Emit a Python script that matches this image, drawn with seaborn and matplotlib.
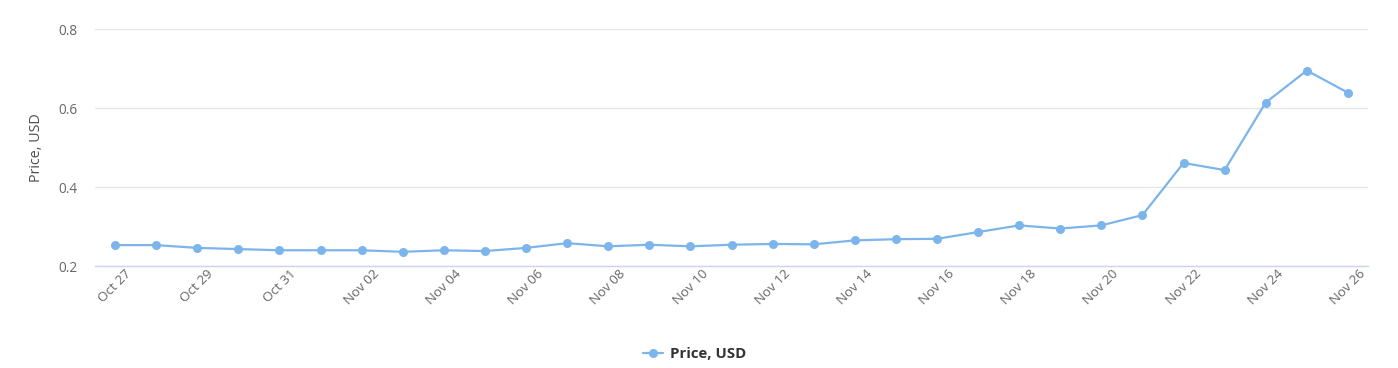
import pandas as pd
import numpy as np
import matplotlib
matplotlib.use('Agg')
import matplotlib.pyplot as plt
import matplotlib.dates as mdates
import seaborn as sns

# Price data (Oct 27 - Nov 26)
dates = pd.date_range("2023-10-27", "2023-11-26", freq="D")
prices = [0.253, 0.253, 0.246, 0.243, 0.240, 0.240, 0.240, 0.236, 0.240, 0.238,
          0.246, 0.258, 0.250, 0.254, 0.250, 0.254, 0.256, 0.255, 0.265, 0.268,
          0.269, 0.286, 0.303, 0.295, 0.303, 0.329, 0.461, 0.443, 0.614, 0.695,
          0.639]
series_name = "Price, USD"
y_ticks = [0.2, 0.4, 0.6, 0.8]

df = pd.DataFrame({"date": dates, "price": prices})

sns.set_style("white")
plt.rcParams['font.family'] = ['Open Sans', 'DejaVu Sans']

LINE = "#7cb5ec"
GRID = "#e6e6e6"
TXT = "#666666"

fig = plt.figure(figsize=(13.98, 3.68), dpi=100)
ax = fig.add_axes([0.068, 0.277, 0.9105, 0.644])

sns.lineplot(data=df, x="date", y="price", ax=ax, color=LINE, linewidth=1.6,
             marker="o", markersize=6.5, markeredgewidth=0, label=series_name,
             legend=False)

pad = pd.Timedelta(hours=11.7)
ax.set_xlim(dates[0] - pad, dates[-1] + pad)
ax.set_ylim(0.2, 0.8)
ax.set_yticks(y_ticks)
ax.set_yticklabels([f"{v:.1f}" for v in y_ticks])
ax.yaxis.grid(True, color=GRID, linewidth=1)
ax.set_axisbelow(True)

ax.set_xticks(dates[::2])
ax.xaxis.set_major_formatter(mdates.DateFormatter("%b %d"))
plt.setp(ax.get_xticklabels(), rotation=45, ha="center", va="top")

ax.tick_params(axis="x", colors=TXT, labelsize=9.6, length=0, pad=1)
ax.tick_params(axis="y", colors=TXT, labelsize=9.8, length=0, pad=13)
for s in ["top", "right", "left"]:
    ax.spines[s].set_visible(False)
ax.spines["bottom"].set_color("#ccd6eb")
ax.spines["bottom"].set_linewidth(1)

ax.set_xlabel("")
ax.set_ylabel("Price, USD", color="#4d4d4d", fontsize=10.3)
ax.yaxis.set_label_coords(-0.040, 0.5)

handles, labels = ax.get_legend_handles_labels()
leg = fig.legend(handles, labels, loc="center", bbox_to_anchor=(0.497, 0.038),
                 frameon=False, handlelength=1.3, handletextpad=0.5,
                 prop={"weight": "bold", "size": 10.8})
for t in leg.get_texts():
    t.set_color("#333333")

plt.savefig("out.png", dpi=100)
plt.close()
